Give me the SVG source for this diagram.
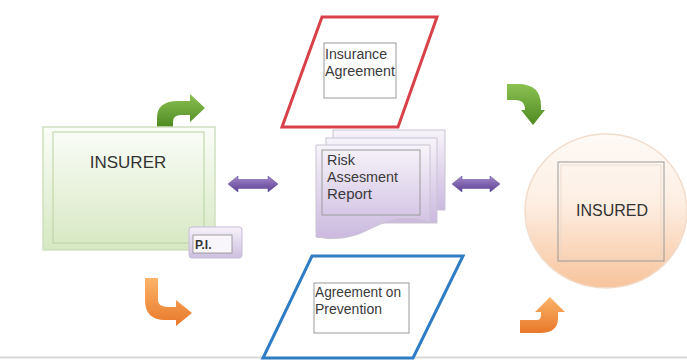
<svg xmlns="http://www.w3.org/2000/svg" width="687" height="360" viewBox="0 0 687 360">
<defs>
<linearGradient id="gGreen" x1="0" y1="0" x2="0" y2="1"><stop offset="0" stop-color="#fbfdf8"/><stop offset="1" stop-color="#d6e8c2"/></linearGradient>
<linearGradient id="gPeach" x1="0" y1="0" x2="0" y2="1"><stop offset="0" stop-color="#fefaf6"/><stop offset="0.45" stop-color="#fdeee2"/><stop offset="1" stop-color="#f7c49c"/></linearGradient>
<linearGradient id="gDoc" x1="0" y1="0" x2="0" y2="1"><stop offset="0" stop-color="#f7f4fa"/><stop offset="1" stop-color="#cbb9df"/></linearGradient>
<linearGradient id="gPI" x1="0" y1="0" x2="0" y2="1"><stop offset="0" stop-color="#f6f2fa"/><stop offset="1" stop-color="#cdbfe0"/></linearGradient>
<linearGradient id="gArrGreen" x1="0" y1="0" x2="0" y2="1"><stop offset="0" stop-color="#8cc152"/><stop offset="1" stop-color="#4e8a22"/></linearGradient>
<linearGradient id="gArrOrange" x1="0" y1="0" x2="0" y2="1"><stop offset="0" stop-color="#fbb469"/><stop offset="1" stop-color="#e8782a"/></linearGradient>
<linearGradient id="gArrPurple" x1="0" y1="0" x2="0" y2="1"><stop offset="0" stop-color="#a58bcb"/><stop offset="0.5" stop-color="#8063b0"/><stop offset="1" stop-color="#5d4390"/></linearGradient>
</defs>
<style>
.t{font-family:"Liberation Sans",Arial,sans-serif;fill:#333;}
.c{font-size:14px;fill:#3a3a3a;}
.box{fill:none;stroke:#9a9a9a;stroke-width:1;}
.doc{fill:url(#gDoc);stroke:#c9c3d3;stroke-width:1;}
.ga{fill:url(#gArrGreen);}
.oa{fill:url(#gArrOrange);}
.pa{fill:url(#gArrPurple);stroke:#5d4390;stroke-width:0.5;}
</style>
<rect x="0" y="0" width="687" height="360" fill="#ffffff"/>
<line x1="0" y1="357.5" x2="687" y2="357.5" stroke="#d8d8d8" stroke-width="2"/>

<g id="connectors">
<path class="ga" d="M157,127 L157,118 Q157,101 178,101 L190,101 L190,94 L205,108 L190,122 L190,115 L181,115 Q173,115 173,122 L173,127 Z"/>
<path class="ga" d="M507,84 L518,84 Q541,84 541,106 L541,110 L545,110 L533,125 L521,110 L525,110 Q525,100 516,100 L507,100 Z"/>
<path class="oa" d="M145,278 L158,278 L158,300 Q158,307 168,307 L176,307 L176,300 L192,313 L176,326 L176,320 L165,320 Q145,320 145,300 Z"/>
<path class="oa" d="M520,320 L537,320 Q541,320 541,315 L541,312 L535,312 L550,297 L565,312 L558,312 L558,318 Q558,333 540,333 L520,333 Z"/>
<path class="pa" d="M228,184 L238,176 L238,179.5 L268,179.5 L268,176 L278,184 L268,192 L268,188.5 L238,188.5 L238,192 Z"/>
<path class="pa" d="M452,184 L462,176 L462,179.5 L490,179.5 L490,176 L500,184 L490,192 L490,188.5 L462,188.5 L462,192 Z"/>
</g>

<g id="insurer">
<rect x="43" y="127" width="172" height="123" fill="url(#gGreen)" stroke="#cfe0bf" stroke-width="1.5"/>
<rect x="53" y="132" width="151" height="111" fill="none" stroke="#b9d2a2" stroke-width="1"/>
<text class="t" x="128" y="168" font-size="17" text-anchor="middle">INSURER</text>
</g>

<g id="pi">
<rect x="189" y="227" width="53" height="31" rx="3" fill="url(#gPI)" stroke="#c8bcd8" stroke-width="1"/>
<rect x="193" y="235" width="39" height="18" fill="#f8f6fb" stroke="#8d8d8d" stroke-width="0.8"/>
<text class="t" x="195" y="249" font-size="12" font-weight="bold">P.I.</text>
</g>

<g id="insurance-agreement">
<polygon points="322,17 437,17 398,127 282,127" fill="#ffffff" stroke="#d9414a" stroke-width="3"/>
<rect x="324" y="43" width="72" height="55" class="box"/>
<text class="t c" x="325" y="59" textLength="62" lengthAdjust="spacingAndGlyphs">Insurance</text>
<text class="t c" x="325" y="76" textLength="70" lengthAdjust="spacingAndGlyphs">Agreement</text>
</g>

<g id="risk-report">
<rect x="333" y="130" width="112" height="80" class="doc"/>
<rect x="326" y="138" width="111" height="85" class="doc"/>
<path class="doc" d="M316,145 L430,145 L430,222 Q400,212 372,228 Q345,243 316,237 Z"/>
<rect x="322" y="150" width="98" height="65" class="box"/>
<text class="t c" x="327" y="165" textLength="28" lengthAdjust="spacingAndGlyphs">Risk</text>
<text class="t c" x="327" y="182" textLength="71" lengthAdjust="spacingAndGlyphs">Assesment</text>
<text class="t c" x="327" y="199" textLength="45" lengthAdjust="spacingAndGlyphs">Report</text>
</g>

<g id="insured">
<ellipse cx="606" cy="211" rx="81" ry="77" fill="url(#gPeach)" stroke="#f2dccb" stroke-width="1.5"/>
<rect x="558" y="162" width="106" height="99" class="box"/>
<rect x="561" y="165" width="100" height="93" fill="none" stroke="#e8d6c8" stroke-width="0.8"/>
<text class="t" x="612" y="216" font-size="16" text-anchor="middle">INSURED</text>
</g>

<g id="agreement-prevention">
<polygon points="312,256 463,256 413,358 263,358" fill="#ffffff" stroke="#2e7dc4" stroke-width="3"/>
<rect x="314" y="283" width="95" height="50" class="box"/>
<text class="t c" x="315" y="297" textLength="86" lengthAdjust="spacingAndGlyphs">Agreement on</text>
<text class="t c" x="315" y="314" textLength="67" lengthAdjust="spacingAndGlyphs">Prevention</text>
</g>
</svg>
